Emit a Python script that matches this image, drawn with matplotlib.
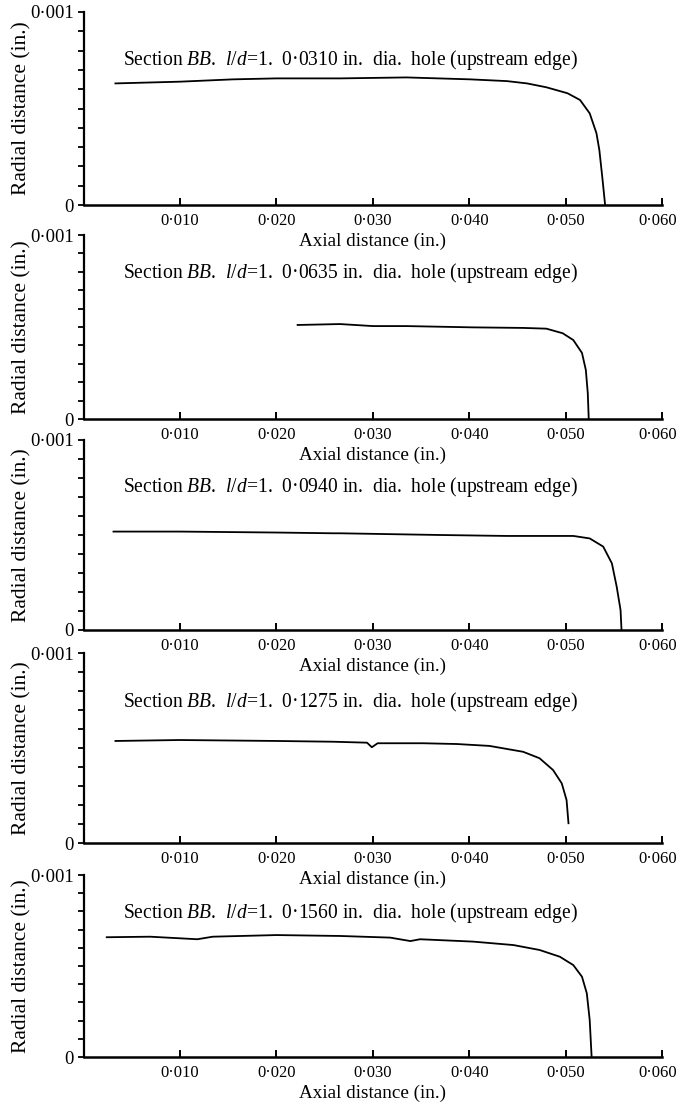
import matplotlib
matplotlib.use("Agg")
import matplotlib.pyplot as plt
from matplotlib.ticker import FixedLocator, FixedFormatter, MultipleLocator
from matplotlib.transforms import ScaledTranslation

plt.rcParams['font.family'] = ['Liberation Serif', 'DejaVu Serif']
plt.rcParams['mathtext.fontset'] = 'custom'
plt.rcParams['mathtext.rm'] = 'Liberation Serif'
plt.rcParams['mathtext.it'] = 'Liberation Serif:italic'

# hole diameters (in.)
diameters = ["0·0310", "0·0635", "0·0940", "0·1275", "0·1560"]

# panel 1
x1 = [0.0033, 0.0100, 0.0155, 0.0200, 0.0266, 0.0335, 0.0401, 0.0439, 0.0460,
      0.0480, 0.0502, 0.0515, 0.0525, 0.0532, 0.0535, 0.0538, 0.0541]
y1 = [0.000630, 0.000639, 0.000651, 0.000656, 0.000656, 0.000661, 0.000651, 0.000642,
      0.000630, 0.000610, 0.000579, 0.000544, 0.000475, 0.000372, 0.000285, 0.000147, 0.0]
# panel 2
x2 = [0.0222, 0.0266, 0.0300, 0.0335, 0.0404, 0.0456, 0.0480, 0.0497, 0.0508,
      0.0517, 0.0521, 0.0523, 0.0524]
y2 = [0.000511, 0.000516, 0.000505, 0.000505, 0.000498, 0.000495, 0.000491, 0.000466,
      0.000429, 0.000359, 0.000266, 0.000141, 0.0]
# panel 3
x3 = [0.0031, 0.0100, 0.0200, 0.0259, 0.0266, 0.0370, 0.0439, 0.0508, 0.0525,
      0.0539, 0.0548, 0.0553, 0.0557, 0.0558]
y3 = [0.000518, 0.000518, 0.000513, 0.000509, 0.000509, 0.000500, 0.000495, 0.000495,
      0.000482, 0.000439, 0.000351, 0.000228, 0.000105, 0.0]
# panel 4
x4 = [0.0033, 0.0100, 0.0200, 0.0259, 0.0294, 0.0299, 0.0305, 0.0352, 0.0387,
      0.0421, 0.0456, 0.0473, 0.0487, 0.0496, 0.0501, 0.0503]
y4 = [0.000537, 0.000542, 0.000537, 0.000533, 0.000528, 0.000504, 0.000525, 0.000525,
      0.000521, 0.000511, 0.000480, 0.000446, 0.000384, 0.000314, 0.000226, 0.000104]
# panel 5
x5 = [0.0024, 0.0069, 0.0118, 0.0134, 0.0200, 0.0266, 0.0318, 0.0339, 0.0349,
      0.0404, 0.0446, 0.0473, 0.0494, 0.0508, 0.0517, 0.0522, 0.0525, 0.0527]
y5 = [0.000658, 0.000661, 0.000647, 0.000661, 0.000670, 0.000665, 0.000656, 0.000637,
      0.000647, 0.000634, 0.000615, 0.000588, 0.000551, 0.000505, 0.000441, 0.000350,
      0.000203, 0.0]

xs = [x1, x2, x3, x4, x5]
ys = [y1, y2, y3, y4, y5]

x_ticks = [0.010, 0.020, 0.030, 0.040, 0.050, 0.060]
x_ticklabels = ["0·010", "0·020", "0·030", "0·040", "0·050", "0·060"]
y_ticks = [0.0, 0.001]
y_ticklabels = ["0", "0·001"]

W, H = 678, 1104
fig = plt.figure(figsize=(W / 100, H / 100), dpi=100)

panels_px = [(12, 205), (235, 419), (440, 630), (653, 843), (875, 1057)]
left_px, right_px = 83.6, 662
title_y_px = [60, 273, 487, 702, 913]

for i, (top, bot) in enumerate(panels_px):
    ax = fig.add_axes([left_px / W, 1 - bot / H, (right_px - left_px) / W, (bot - top) / H])
    ax.patch.set_visible(False)
    ax.plot(xs[i], ys[i], color='black', lw=1.3)
    ax.set_xlim(0, 0.060)
    ax.set_ylim(0, 0.001)
    for s in ['top', 'right']:
        ax.spines[s].set_visible(False)
    ax.spines['left'].set_linewidth(1.6)
    ax.spines['bottom'].set_linewidth(1.8)
    ax.xaxis.set_major_locator(FixedLocator(x_ticks))
    ax.xaxis.set_major_formatter(FixedFormatter(x_ticklabels))
    ax.yaxis.set_major_locator(FixedLocator(y_ticks))
    ax.yaxis.set_major_formatter(FixedFormatter(y_ticklabels))
    ax.yaxis.set_minor_locator(MultipleLocator(0.0001))
    ax.tick_params(axis='x', direction='in', length=5, width=1.4, labelsize=12, pad=6)
    ax.tick_params(axis='y', which='both', direction='out', length=4, width=1.3, labelsize=13.5, pad=3)
    ax.set_xlabel("Axial distance (in.)", fontsize=13.8, labelpad=0)
    ax.xaxis.set_label_coords(0.5, -36 / (bot - top))
    ax.xaxis.label.set_va('center')
    ax.set_ylabel("Radial distance (in.)", fontsize=15.5)
    ax.yaxis.set_label_coords(-0.107, 0.5)
    ax.yaxis.label.set_va('center')
    # nudge the last x tick label left so it stays inside the figure
    lab = ax.get_xticklabels()[-1]
    lab.set_transform(lab.get_transform() + ScaledTranslation(-4 / 100, 0, fig.dpi_scale_trans))
    ty = (bot - title_y_px[i]) / (bot - top)
    ax.text(0.0041, ty, "Section $BB$.  $l/d$=1.  " + diameters[i] + " in.  dia.  hole (upstream edge)",
            transform=ax.get_xaxis_transform(), fontsize=14.1, ha='left', va='center')

fig.savefig("out.png", dpi=100)
